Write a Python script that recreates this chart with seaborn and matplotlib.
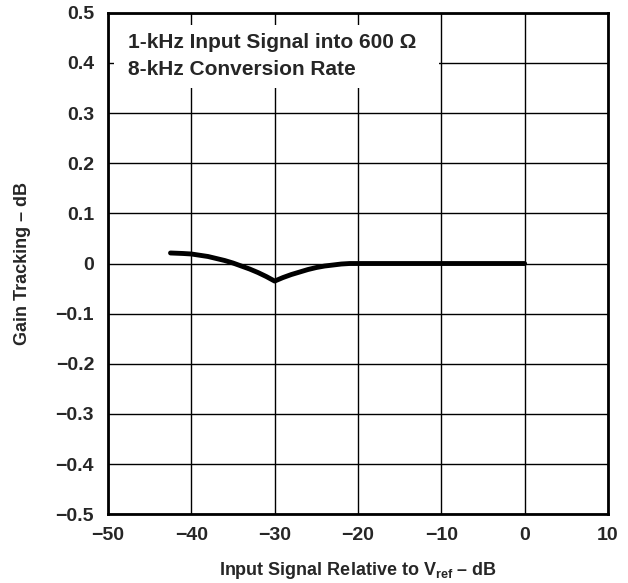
import matplotlib.pyplot as plt
import pandas as pd
import seaborn as sns

# Data
input_db = [-42.5, -41, -40, -38, -36, -35, -34, -33, -32, -31, -30,
            -29, -28, -27, -26, -25, -24, -23, -22, -21, -20, -15, -10, -5, 0]
gain_db = [0.021, 0.020, 0.019, 0.014, 0.006, 0.001, -0.005, -0.011, -0.018, -0.026, -0.035,
           -0.028, -0.022, -0.017, -0.012, -0.008, -0.005, -0.003, -0.001, 0.0, 0.0, 0.0, 0.0, 0.0, 0.0]

x_ticks = [-50, -40, -30, -20, -10, 0, 10]
y_ticks = [-0.5, -0.4, -0.3, -0.2, -0.1, 0, 0.1, 0.2, 0.3, 0.4, 0.5]

df = pd.DataFrame({'input': input_db, 'gain': gain_db})

sns.set_style("white")
plt.rcParams['font.family'] = ['Liberation Sans', 'DejaVu Sans']
plt.rcParams['font.weight'] = 'bold'
plt.rcParams['mathtext.fontset'] = 'custom'
plt.rcParams['mathtext.rm'] = 'Liberation Sans:bold'
plt.rcParams['mathtext.bf'] = 'Liberation Sans:bold'
plt.rcParams['mathtext.it'] = 'Liberation Sans:bold'

fig = plt.figure(figsize=(6.28, 5.83), dpi=100)
ax = fig.add_axes([0.172, 0.118, 0.796, 0.860])

sns.lineplot(data=df, x='input', y='gain', ax=ax, color='black', linewidth=3.5, zorder=3)

ax.set_xlim(-50, 10)
ax.set_ylim(-0.5, 0.5)
ax.set_xticks(x_ticks)
ax.set_yticks(y_ticks)
ax.set_xticklabels([f'{t:g}'.replace('-', '\u2212') for t in x_ticks])
ax.set_yticklabels([f'{t:g}'.replace('-', '\u2212') for t in y_ticks])
ax.tick_params(axis='y', labelsize=14, length=0, pad=10)
ax.tick_params(axis='x', labelsize=14, length=0, pad=9)
for lab in ax.get_xticklabels() + ax.get_yticklabels():
    lab.set_fontweight('bold')

ax.grid(True, color='black', linewidth=1.0)
for s in ax.spines.values():
    s.set_color('black')
    s.set_linewidth(2)

ax.set_xlabel(r'Input Signal Relative to V$_{\mathrm{ref}}$ – dB', fontsize=13, fontweight='bold', labelpad=12)
ax.set_ylabel('Gain Tracking – dB', fontsize=13, fontweight='bold', labelpad=18)

# White text box over the grid
ax.fill_between([-49.3, -10.3], 0.35, 0.476, color='white', zorder=2.5, linewidth=0)
ax.text(-47.6, 0.441, '1-kHz Input Signal into 600 Ω', fontsize=15, fontweight='bold', va='center', zorder=4)
ax.text(-47.6, 0.386, '8-kHz Conversion Rate', fontsize=15, fontweight='bold', va='center', zorder=4)

fig.savefig('out.png', dpi=100)
